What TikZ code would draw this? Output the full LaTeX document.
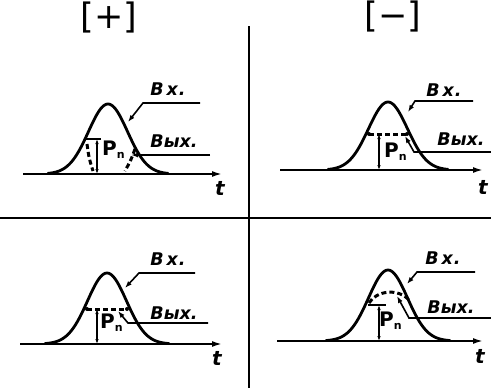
\documentclass[tikz,border=0pt]{standalone}
\usepackage{fontspec}
\setmainfont{DejaVu Sans}
\usetikzlibrary{arrows.meta}
\begin{document}
\begin{tikzpicture}[x=1pt,y=-1pt,
  bell/.style={line width=2.8pt, line cap=round},
  axis/.style={line width=1.8pt, -{Latex[length=10pt,width=6pt]}},
  sep/.style={line width=2.2pt},
  lead/.style={line width=1.6pt},
  leadarr/.style={line width=1.6pt, -{Latex[length=7pt,width=5pt]}},
  dsh/.style={line width=3pt, dash pattern=on 5pt off 3pt},
  dim/.style={line width=1.5pt, {Latex[length=5pt,width=3.5pt]}-{Latex[length=5pt,width=3.5pt]}},
  lbl/.style={font=\fontsize{17.5}{17.5}\selectfont\bfseries\itshape, inner sep=0pt},
  tlbl/.style={font=\fontsize{20}{20}\selectfont\bfseries\itshape, inner sep=0pt},
  plbl/.style={font=\fontsize{20}{20}\selectfont\bfseries, inner sep=0pt},
  sign/.style={font=\fontsize{35}{35}\selectfont, inner sep=0pt},
]
\useasboundingbox (0,0) rectangle (491,388);
\newcommand\PnText{P\raisebox{-3pt}{\fontsize{11}{11}\selectfont n}}
\newcommand\VxText{В\hspace{3pt}х\hspace{1pt}.}
\newcommand\VyxText{Вых.}

% headers
\node[sign] (plus) at (109,18) {[+]};
\node[sign] (minus) at (393,17) {[−]};

% separators
\coordinate (vs1) at (249,26); \coordinate (vs2) at (249,388);
\coordinate (hs1) at (0,218);  \coordinate (hs2) at (491,218);
\draw[sep] (vs1) -- (vs2);
\draw[line width=1.6pt] (hs1) -- (hs2);

% ---------- top-left ----------
\coordinate (tlA1) at (23,174); \coordinate (tlA2) at (222,174);
\draw[axis] (tlA1) -- (tlA2);
\draw[bell] plot[domain=-60:60, samples=81, smooth] ({108+\x},{174-70*exp(-(\x*\x)/(2*19.5*19.5))});
\node[tlbl] (tlt) at (220,188) {t};
\node[lbl] (tlvx) at (168,89) {\VxText};
\node[lbl] (tlvyx) at (174,141) {\VyxText};
\node[plbl, anchor=west] (tlp) at (102,150) {\PnText};
\coordinate (tlb1) at (85,139); \coordinate (tlb2) at (101,139);
\draw[lead] (tlb1) -- (tlb2);
\coordinate (tld1) at (97,139); \coordinate (tld2) at (97,174);
\draw[dim] (tld1) -- (tld2);
\draw[dsh] (87,144) .. controls (89,158) .. (93,171);
\draw[dsh] (135,149) .. controls (131,160) .. (125,171);
\coordinate (tlx1) at (200,103); \coordinate (tlx2) at (143,103); \coordinate (tlx3) at (128,122);
\draw[leadarr] (tlx1) -- (tlx2) -- (tlx3);
\coordinate (tly1) at (210,155); \coordinate (tly2) at (131,155);
\draw[leadarr] (tly1) -- (tly2);

% ---------- top-right ----------
\coordinate (trA1) at (280,170); \coordinate (trA2) at (483,170);
\draw[axis] (trA1) -- (trA2);
\draw[bell] plot[domain=-60:60, samples=81, smooth] ({388+\x},{170-68*exp(-(\x*\x)/(2*19.5*19.5))});
\node[tlbl] (trt) at (483,187) {t};
\node[lbl] (trvx) at (444,90) {\VxText};
\node[lbl] (trvyx) at (461,139) {\VyxText};
\node[plbl, anchor=west] (trp) at (384,152) {\PnText};
\coordinate (trh1) at (369,134); \coordinate (trh2) at (407,134);
\draw[dsh] (trh1) -- (trh2);
\fill (trh1) circle (2pt); \fill (trh2) circle (2pt);
\coordinate (trd1) at (379,134); \coordinate (trd2) at (379,170);
\draw[dim] (trd1) -- (trd2);
\coordinate (trx1) at (473,101); \coordinate (trx2) at (415,101); \coordinate (trx3) at (408,112);
\draw[leadarr] (trx1) -- (trx2) -- (trx3);
\coordinate (try1) at (491,152); \coordinate (try2) at (414,152); \coordinate (try3) at (405,136);
\draw[leadarr] (try1) -- (try2) -- (try3);

% ---------- bottom-left ----------
\coordinate (blA1) at (20,344); \coordinate (blA2) at (222,344);
\draw[axis] (blA1) -- (blA2);
\draw[bell] plot[domain=-62:62, samples=81, smooth] ({107+\x},{344-71*exp(-(\x*\x)/(2*19.5*19.5))});
\node[tlbl] (blt) at (217,358) {t};
\node[lbl] (blvx) at (168,259) {\VxText};
\node[lbl] (blvyx) at (174,313) {\VyxText};
\node[plbl, anchor=west] (blp) at (100,323) {\PnText};
\coordinate (blh1) at (87,309); \coordinate (blh2) at (127,309);
\draw[dsh] (blh1) -- (blh2);
\fill (blh1) circle (2pt); \fill (blh2) circle (2pt);
\coordinate (bld1) at (97,309); \coordinate (bld2) at (97,344);
\draw[dim] (bld1) -- (bld2);
\coordinate (blx1) at (195,273); \coordinate (blx2) at (139,273); \coordinate (blx3) at (125,288);
\draw[leadarr] (blx1) -- (blx2) -- (blx3);
\coordinate (bly1) at (208,323); \coordinate (bly2) at (128,323); \coordinate (bly3) at (118,311);
\draw[leadarr] (bly1) -- (bly2) -- (bly3);

% ---------- bottom-right ----------
\coordinate (brA1) at (277,341); \coordinate (brA2) at (483,341);
\draw[axis] (brA1) -- (brA2);
\draw[bell] plot[domain=-62:62, samples=81, smooth] ({388+\x},{341-71*exp(-(\x*\x)/(2*19.5*19.5))});
\node[tlbl] (brt) at (480,356) {t};
\node[lbl] (brvx) at (443,258) {\VxText};
\node[lbl] (brvyx) at (451,307) {\VyxText};
\node[plbl, anchor=west] (brp) at (379,321) {\PnText};
\draw[dsh] (369,303) .. controls (376,291) and (398,287) .. (410,301);
\coordinate (brb1) at (368,305); \coordinate (brb2) at (386,305);
\draw[lead] (brb1) -- (brb2);
\coordinate (brd1) at (379,305); \coordinate (brd2) at (379,341);
\draw[dim] (brd1) -- (brd2);
\coordinate (brx1) at (475,272); \coordinate (brx2) at (417,272); \coordinate (brx3) at (407,284);
\draw[leadarr] (brx1) -- (brx2) -- (brx3);
\coordinate (bry1) at (491,318); \coordinate (bry2) at (409,318); \coordinate (bry3) at (397,296);
\draw[leadarr] (bry1) -- (bry2) -- (bry3);
\end{tikzpicture}
\end{document}
